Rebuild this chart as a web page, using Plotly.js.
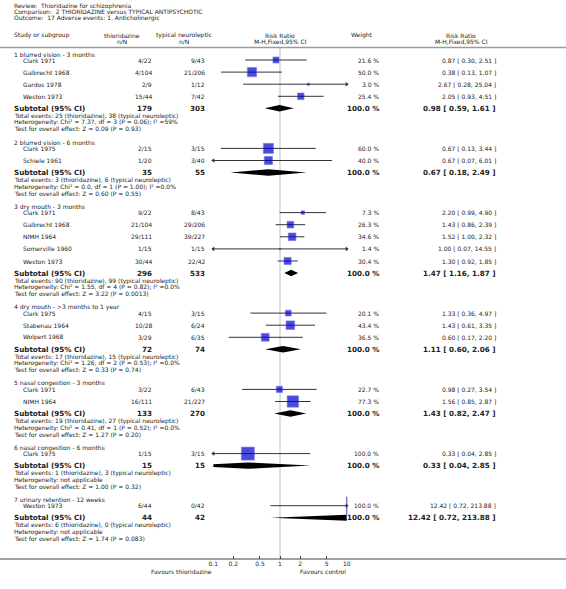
<!DOCTYPE html>
<html>
<head>
<meta charset="utf-8">
<script src="https://cdn.plot.ly/plotly-3.0.1.min.js"></script>
<style>html,body{margin:0;padding:0;background:#fff;}#chart{width:566px;height:589px;}</style>
</head>
<body>
<div id="chart"></div>
<script>
// ---------------- DATA ----------------
const titleLines = [
  "Review:  Thioridazine for schizophrenia",
  "Comparison:  2 THIORIDAZINE versus TYPICAL ANTIPSYCHOTIC",
  "Outcome:  17 Adverse events: 1. Anticholinergic"
];
const expLabel = "thioridazine";
const ctlLabel = "typical neuroleptic";
const groups = [
  "1 blurred vision - 3 months",
  "2 blurred vision - 6 months",
  "3 dry mouth - 3 months",
  "4 dry mouth - >3 months to 1 year",
  "5 nasal congestion - 3 months",
  "6 nasal congestion - 6 months",
  "7 urinary retention - 12 weeks"
];
const studyGroup = [0,0,0,0, 1,1, 2,2,2,2,2, 3,3,3, 4,4, 5, 6];
const studyNames = [
  "Clark 1971","Galbrecht 1968","Gardos 1978","Weston 1973",
  "Clark 1975","Schiele 1961",
  "Clark 1971","Galbrecht 1968","NIMH 1964","Somerville 1960","Weston 1973",
  "Clark 1975","Stabenau 1964","Wolpert 1968",
  "Clark 1971","NIMH 1964",
  "Clark 1975",
  "Weston 1973"
];
const expNN = ["4/22","4/104","2/9","15/44", "2/15","1/20", "9/22","21/104","29/111","1/15","30/44",
  "4/15","10/28","3/29", "3/22","16/111", "1/15", "6/44"];
const ctlNN = ["9/43","21/206","1/12","7/42", "3/15","3/40", "8/43","29/206","39/227","1/15","22/42",
  "3/15","6/24","6/35", "6/43","21/227", "3/15", "0/42"];
const weights = [21.6,50.0,3.0,25.4, 60.0,40.0, 7.3,26.3,34.6,1.4,30.4, 20.1,43.4,36.5, 22.7,77.3, 100.0, 100.0];
const rr   = [0.87,0.38,2.67,2.05, 0.67,0.67, 2.20,1.43,1.52,1.00,1.30, 1.33,1.43,0.60, 0.98,1.56, 0.33, 12.42];
const rrLo = [0.30,0.13,0.28,0.93, 0.13,0.07, 0.99,0.86,1.00,0.07,0.92, 0.36,0.61,0.17, 0.27,0.85, 0.04, 0.72];
const rrHi = [2.51,1.07,25.04,4.51, 3.44,6.01, 4.90,2.39,2.32,14.55,1.85, 4.97,3.35,2.20, 3.54,2.87, 2.85, 213.88];

const subExpN = [179,35,296,72,133,15,44];
const subCtlN = [303,55,533,74,270,15,42];
const subRR   = [0.98,0.67,1.47,1.11,1.43,0.33,12.42];
const subLo   = [0.59,0.18,1.16,0.60,0.82,0.04,0.72];
const subHi   = [1.61,2.49,1.87,2.06,2.47,2.85,213.88];
const eventsExp = [25,3,90,17,19,1,6];
const eventsCtl = [38,6,99,15,27,3,0];
const heterogeneity = [
  "Chi² = 7.37, df = 3 (P = 0.06); I² =59%",
  "Chi² = 0.0, df = 1 (P = 1.00); I² =0.0%",
  "Chi² = 1.55, df = 4 (P = 0.82); I² =0.0%",
  "Chi² = 1.26, df = 2 (P = 0.53); I² =0.0%",
  "Chi² = 0.41, df = 1 (P = 0.52); I² =0.0%",
  "not applicable",
  "not applicable"
];
const overallEffect = [
  "Z = 0.09 (P = 0.93)","Z = 0.60 (P = 0.55)","Z = 3.22 (P = 0.0013)","Z = 0.33 (P = 0.74)",
  "Z = 1.27 (P = 0.20)","Z = 1.00 (P = 0.32)","Z = 1.74 (P = 0.083)"
];
const tickVals = [0.1,0.2,0.5,1,2,5,10];
const tickLabels = ["0.1","0.2","0.5","1","2","5","10"];
const favLeft = "Favours thioridazine";
const favRight = "Favours control";

// ---------------- LAYOUT CONSTANTS ----------------
const W = 566, H = 589;
const FONT = "DejaVu Sans, Verdana, sans-serif";
const TXT = "#222";
const FS = 6, FSB = 7.2;
const plotL = 213.3, plotR = 346.7;
const axisY = 559, headLineY = 47.5;
const X_LEFT = 13, X_STUDY = 22, X_EXP = 153, X_CTL = 206, X_W = 380, X_RR = 497;
const xMin = 0.1, xMax = 10;
const SQ = 1.3;

const annotations = [];
function txt(x, y, text, anchor, size, bold) {
  annotations.push({xref:'paper', yref:'y', x: x / W, y: y, text: bold ? '<b>' + text + '</b>' : text,
    xanchor: anchor, yanchor: 'middle', showarrow: false, borderpad: 0,
    font: {family: FONT, size: size || FS, color: TXT}});
}
const f2 = v => v.toFixed(2);
const ciText = (e, l, h) => f2(e) + " [ " + f2(l) + ", " + f2(h) + " ]";

// header
titleLines.forEach((t, i) => txt(X_LEFT, 5.5 + i * 6.2, t, 'left'));
txt(X_LEFT, 35, "Study or subgroup", 'left');
txt(122, 35, expLabel, 'center'); txt(122, 41, "n/N", 'center');
txt(184, 35, ctlLabel, 'center'); txt(184, 41, "n/N", 'center');
txt(280, 35, "Risk Ratio", 'center'); txt(280, 41, "M-H,Fixed,95% CI", 'center');
txt(362, 35, "Weight", 'center');
txt(461, 35, "Risk Ratio", 'center'); txt(461, 41, "M-H,Fixed,95% CI", 'center');

// rows
const studyY = [], subY = [];
let y = 54;
groups.forEach((g, gi) => {
  txt(X_LEFT, y, g, 'left');
  let yy = y + 6;
  const idx = [];
  studyGroup.forEach((s, i) => { if (s === gi) idx.push(i); });
  idx.forEach((i, k) => {
    const ry = yy + k * 12.1;
    studyY[i] = ry;
    txt(X_STUDY, ry, studyNames[i], 'left');
    txt(X_EXP, ry, expNN[i], 'right');
    txt(X_CTL, ry, ctlNN[i], 'right');
    txt(X_W, ry, weights[i].toFixed(1) + " %", 'right');
    txt(X_RR, ry, ciText(rr[i], rrLo[i], rrHi[i]), 'right');
  });
  const sy = yy + (idx.length - 1) * 12.1 + 12;
  subY[gi] = sy;
  txt(X_LEFT, sy, "Subtotal (95% CI)", 'left', FSB, true);
  txt(X_EXP, sy, String(subExpN[gi]), 'right', FSB, true);
  txt(X_CTL, sy, String(subCtlN[gi]), 'right', FSB, true);
  txt(X_W, sy, "100.0 %", 'right', FSB, true);
  txt(X_RR, sy, ciText(subRR[gi], subLo[gi], subHi[gi]), 'right', FSB, true);
  txt(X_LEFT, sy + 7.6, "Total events: " + eventsExp[gi] + " (" + expLabel + "), " + eventsCtl[gi] + " (" + ctlLabel + ")", 'left');
  txt(X_LEFT, sy + 14.1, "Heterogeneity: " + heterogeneity[gi], 'left');
  txt(X_LEFT, sy + 20.6, "Test for overall effect: " + overallEffect[gi], 'left');
  y = sy + 20.6 + 13.5;
});
txt(plotL, 571, favLeft, 'right');
txt(plotR, 571, favRight, 'right');

// ---------------- TRACES ----------------
const ciX = [], ciY = [];
studyY.forEach((ry, i) => { ciX.push(rrLo[i], rrHi[i], null); ciY.push(ry, ry, null); });
const ciTrace = {type:'scatter', mode:'lines', x: ciX, y: ciY, line:{color:'#333', width:1}, hoverinfo:'skip'};

const arX = [], arY = [], arS = [];
studyY.forEach((ry, i) => {
  if (rrLo[i] < xMin) { arX.push(xMin); arY.push(ry); arS.push('triangle-left'); }
  if (rrHi[i] > xMax) { arX.push(xMax); arY.push(ry); arS.push('triangle-right'); }
});
const arrowTrace = {type:'scatter', mode:'markers', x: arX, y: arY, cliponaxis:false,
  marker:{symbol: arS, size: 4, color:'#333', line:{width:0}}, hoverinfo:'skip'};

// squares for estimates inside the range
const inIdx = rr.map((v, i) => i).filter(i => rr[i] >= xMin && rr[i] <= xMax);
const sqTrace = {type:'scatter', mode:'markers', x: inIdx.map(i => rr[i]), y: inIdx.map(i => studyY[i]), cliponaxis:true,
  marker:{symbol:'square', size: inIdx.map(i => Math.max(SQ * Math.sqrt(weights[i]), 1.5)), color:'#0000cc',
    line:{color:'#3b3bff', width:0.6}}, hoverinfo:'skip'};
// estimates beyond the range: clipped square edge shown at the border
const outIdx = rr.map((v, i) => i).filter(i => rr[i] > xMax || rr[i] < xMin);
const edgeTrace = {type:'scatter', mode:'markers', x: outIdx.map(i => rr[i] > xMax ? xMax : xMin),
  y: outIdx.map(i => studyY[i]), cliponaxis:false,
  marker:{symbol:'line-ns', size: outIdx.map(i => SQ * Math.sqrt(weights[i])), line:{color:'#4444dd', width:1.5}},
  hoverinfo:'skip'};

const dX = [], dY = [];
subY.forEach((sy, g) => {
  dX.push(subLo[g], subRR[g], subHi[g], subRR[g], subLo[g], null);
  dY.push(sy, sy - 3.2, sy, sy + 3.2, sy, null);
});
const diamondTrace = {type:'scatter', mode:'lines', x: dX, y: dY, fill:'toself', fillcolor:'#000',
  line:{width:0, color:'#000'}, hoverinfo:'skip'};

const layout = {
  width: W, height: H, margin:{l:0, r:0, t:0, b:0},
  paper_bgcolor:'#fff', plot_bgcolor:'rgba(0,0,0,0)', showlegend:false, hovermode:false,
  xaxis:{type:'log', range:[Math.log10(xMin), Math.log10(xMax)], domain:[plotL / W, plotR / W],
    anchor:'free', position: 1 - axisY / H, showline:false, showgrid:false, zeroline:false,
    ticks:'inside', ticklen:3, tickwidth:1, tickcolor:'#444',
    tickvals: tickVals, ticktext: tickLabels, tickfont:{family: FONT, size: FS, color: TXT}, fixedrange:true},
  yaxis:{range:[H, 0], domain:[0, 1], visible:false, fixedrange:true},
  shapes:[
    {type:'line', xref:'x', yref:'y', x0:1, x1:1, y0:headLineY, y1:axisY, line:{color:'#d4d4d4', width:1.5}, layer:'below'},
    {type:'line', xref:'paper', yref:'y', x0:0, x1:1, y0:headLineY, y1:headLineY, line:{color:'#9a9a9a', width:1.5}},
    {type:'line', xref:'paper', yref:'y', x0:0, x1:1, y0:axisY, y1:axisY, line:{color:'#444', width:1}}
  ],
  annotations: annotations
};
Plotly.newPlot('chart', [ciTrace, diamondTrace, sqTrace, edgeTrace, arrowTrace], layout, {displayModeBar:false, staticPlot:true});
</script>
</body>
</html>
